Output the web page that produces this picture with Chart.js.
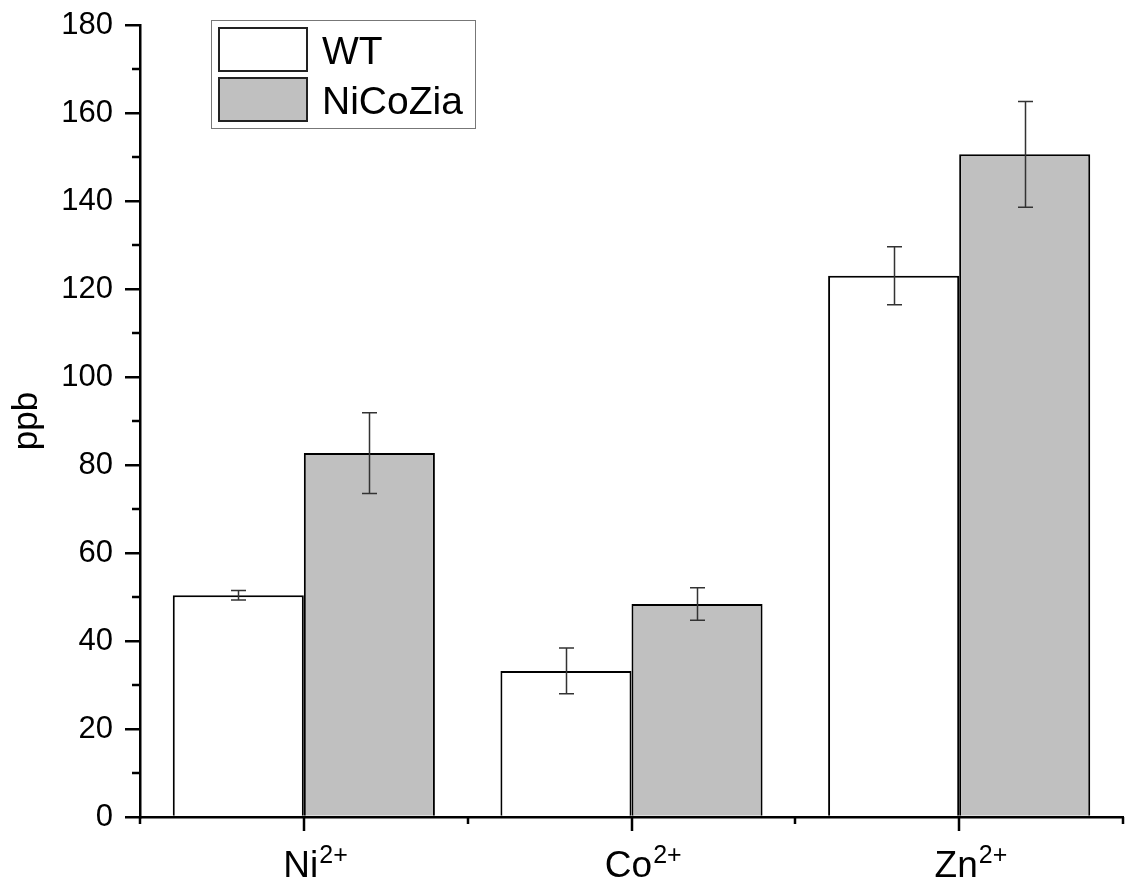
<!DOCTYPE html>
<html>
<head>
<meta charset="utf-8">
<script src="https://cdn.jsdelivr.net/npm/chart.js@4/dist/chart.umd.min.js"></script>
<style>
  html, body { margin: 0; padding: 0; background: #ffffff; }
  #wrap { width: 1131px; height: 886px; }
</style>
</head>
<body>
<div id="wrap"><canvas id="c" width="1131" height="886"></canvas></div>
<script>
// ---- data ----
const categories = ['Ni', 'Co', 'Zn'];
const charges = ['2+', '2+', '2+'];
const seriesNames = ['WT', 'NiCoZia'];
const wtValues = [50.4, 33.2, 123.0];
const wtErrors = [1.1, 5.2, 6.6];
const nicoziaValues = [82.7, 48.4, 150.6];
const nicoziaErrors = [9.2, 3.7, 12.0];
const yMin = 0, yMax = 180, yMajorStep = 20, yMinorStep = 10;
const yTitle = 'ppb';

const FONT = "'Liberation Sans', Arial, Helvetica, sans-serif";

const errors = [wtErrors, nicoziaErrors];

const axisPlugin = {
  id: 'axisExtras',
  afterDraw(chart) {
    const ctx = chart.ctx;
    const xs = chart.scales.x, ys = chart.scales.y;
    const area = chart.chartArea;
    ctx.save();
    ctx.strokeStyle = '#000';
    ctx.lineWidth = 2.5;
    // y minor ticks
    for (let v = yMin + yMinorStep; v < yMax; v += yMajorStep) {
      const py = Math.round(ys.getPixelForValue(v));
      ctx.beginPath();
      ctx.moveTo(area.left - 8, py);
      ctx.lineTo(area.left, py);
      ctx.stroke();
    }
    // x major ticks (category centres) and minor ticks (boundaries)
    const n = categories.length;
    for (let i = 0; i < n; i++) {
      const px = Math.round(xs.getPixelForValue(i));
      ctx.beginPath();
      ctx.moveTo(px, area.bottom);
      ctx.lineTo(px, area.bottom + 14);
      ctx.stroke();
    }
    const half = (xs.getPixelForValue(1) - xs.getPixelForValue(0)) / 2;
    for (let i = 0; i <= n; i++) {
      const px = Math.round(xs.getPixelForValue(0) - half + i * 2 * half);
      ctx.beginPath();
      ctx.moveTo(px, area.bottom);
      ctx.lineTo(px, area.bottom + 7);
      ctx.stroke();
    }
    // x labels with superscripts
    ctx.fillStyle = '#000';
    ctx.textBaseline = 'alphabetic';
    ctx.textAlign = 'left';
    for (let i = 0; i < n; i++) {
      const px = xs.getPixelForValue(i);
      ctx.font = '37px ' + FONT;
      const w = ctx.measureText(categories[i]).width;
      const x0 = px - w / 2 - 3;
      ctx.fillText(categories[i], x0, 877);
      ctx.font = '25px ' + FONT;
      ctx.fillText(charges[i], x0 + w + 1, 863);
    }
    // legend
    const lx = 211, ly = 20, lw = 264, lh = 108;
    ctx.fillStyle = '#fff';
    ctx.fillRect(lx, ly, lw, lh);
    ctx.lineWidth = 1;
    ctx.strokeStyle = '#777';
    ctx.strokeRect(lx + 0.5, ly + 0.5, lw, lh);
    chart.data.datasets.forEach((ds, k) => {
      const sy = 27 + k * 50;
      ctx.fillStyle = ds.backgroundColor;
      ctx.fillRect(218, sy, 90, 45);
      ctx.lineWidth = 2;
      ctx.strokeStyle = '#222';
      ctx.strokeRect(219, sy + 1, 88, 43);
      ctx.fillStyle = '#000';
      ctx.font = '39px ' + FONT;
      ctx.textBaseline = 'alphabetic';
      ctx.fillText(ds.label, 322, sy + 37);
    });
    ctx.restore();
  },
  afterDatasetsDraw(chart) {
    const ctx = chart.ctx;
    const ys = chart.scales.y;
    ctx.save();
    ctx.strokeStyle = '#333';
    ctx.lineWidth = 1.5;
    chart.data.datasets.forEach((ds, k) => {
      const meta = chart.getDatasetMeta(k);
      meta.data.forEach((bar, i) => {
        const v = ds.data[i], e = errors[k][i];
        const x = Math.round(bar.x) + 0.5;
        const yt = ys.getPixelForValue(v + e);
        const yb = ys.getPixelForValue(v - e);
        ctx.beginPath();
        ctx.moveTo(x, yt); ctx.lineTo(x, yb);
        ctx.moveTo(x - 7.5, yt); ctx.lineTo(x + 7.5, yt);
        ctx.moveTo(x - 7.5, yb); ctx.lineTo(x + 7.5, yb);
        ctx.stroke();
      });
    });
    ctx.restore();
  }
};

new Chart(document.getElementById('c'), {
  type: 'bar',
  data: {
    labels: categories,
    datasets: [
      { label: seriesNames[0], data: wtValues, backgroundColor: '#ffffff', borderColor: '#000', borderWidth: 2 },
      { label: seriesNames[1], data: nicoziaValues, backgroundColor: '#c0c0c0', borderColor: '#000', borderWidth: 2 }
    ]
  },
  options: {
    responsive: false,
    animation: false,
    devicePixelRatio: 1,
    layout: { padding: { top: 25, right: 8, left: 0, bottom: 0 } },
    datasets: { bar: { categoryPercentage: 0.8, barPercentage: 1.0 } },
    plugins: { legend: { display: false }, tooltip: { enabled: false } },
    scales: {
      x: {
        grid: { display: false },
        ticks: { display: false },
        border: { display: true, color: '#000', width: 2.5 },
        afterFit(s) { s.height = 69; s.paddingLeft = 0; s.paddingRight = 0; }
      },
      y: {
        min: yMin, max: yMax,
        ticks: {
          stepSize: yMajorStep,
          color: '#000',
          font: { family: FONT, size: 31 },
          padding: 12
        },
        grid: { drawOnChartArea: false, drawTicks: true, tickLength: 15, color: '#000', lineWidth: 2.5 },
        border: { display: true, color: '#000', width: 2.5 },
        title: {
          display: true, text: yTitle, color: '#000',
          font: { family: FONT, size: 35 },
          padding: { top: 6, bottom: 0 }
        },
        afterFit(s) { s.width = 140; s.paddingTop = 0; s.paddingBottom = 0; }
      }
    }
  },
  plugins: [axisPlugin]
});
</script>
</body>
</html>
